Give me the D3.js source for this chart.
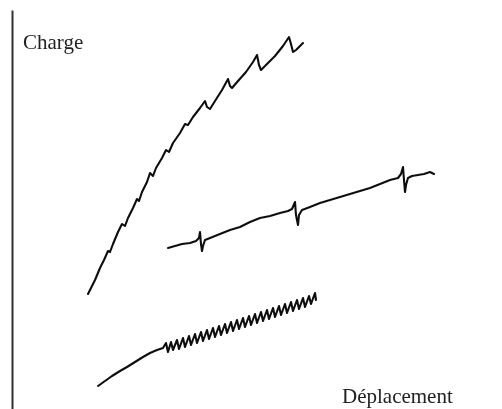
<!DOCTYPE html>
<html>
<head>
<meta charset="utf-8">
<script src="https://cdn.jsdelivr.net/npm/d3@7"></script>
<style>
  html, body { margin: 0; padding: 0; background: #fff; }
  svg { display: block; }
</style>
</head>
<body>
<svg id="chart" width="502" height="409"></svg>
<script>
// Load–displacement traces: [displacement, load] in chart units
const upperTrace = [
  [76,115],[83,129],[88,141],[92,149],[96,158],[98,157],[101,165],[106,177],[110,185],[113,183],
  [116,191],[121,201],[125,210],[127,208],[130,217],[135,227],[138,236],[141,233],[144,241],[150,251],
  [154,259],[157,257],[161,266],[168,276],[173,285],[176,284],[181,292],[188,301],[193,308],[195,302],
  [198,300],[203,308],[210,319],[216,330],[218,323],[220,321],[226,328],[234,337],[241,347],[245,354],
  [247,344],[249,339],[255,345],[263,353],[271,363],[277,372],[279,365],[281,357],[284,359],[288,363],
  [291,366]
];

const middleTrace = [
  [156,161],[163,163],[170,165],[178,166],[184,168],[187,171],[188,177],[189,165],[190,158],[191,163],
  [193,169],[198,171],[208,175],[218,179],[228,182],[238,187],[248,191],[258,193],[268,196],[276,198],
  [280,200],[283,207],[284,194],[286,184],[287,194],[290,199],[298,202],[308,206],[318,209],[328,212],
  [338,215],[348,218],[358,221],[368,225],[378,229],[386,231],[389,235],[391,242],[392,229],[393,217],
  [394,224],[396,231],[400,233],[406,234],[412,235],[418,237],[422,235]
];

const lowerTrace = [
  [86,23],[93,28],[100,33],[108,38],[115,42],[123,47],[131,52],[138,56],[145,59],[151,61],
  [154,66],[156,57],[159,67],[161,59],[165,69],[167,60],[171,71],[173,62],[177,73],[179,64],
  [183,75],[185,66],[189,77],[191,68],[195,79],[197,70],[201,81],[203,72],[207,83],[209,74],
  [213,85],[215,76],[219,87],[221,78],[225,89],[227,80],[231,91],[233,82],[237,93],[239,84],
  [243,95],[245,86],[249,97],[251,88],[255,99],[257,90],[261,101],[263,92],[267,103],[269,94],
  [273,105],[275,96],[279,107],[281,98],[285,109],[287,100],[291,111],[293,102],[297,113],[299,105],
  [303,116],[304,109]
];

const yAxisLabel = "Charge";
const xAxisLabel = "Déplacement";

const svg = d3.select("#chart");
const W = 502, H = 409;

// Soft edges of the printed traces
svg.append("defs").append("filter")
  .attr("id", "soft")
  .attr("x", "-5%").attr("y", "-5%").attr("width", "110%").attr("height", "110%")
  .append("feGaussianBlur")
  .attr("stdDeviation", 0.45);

const root = svg.append("g").attr("filter", "url(#soft)");

const x = d3.scaleLinear().domain([0, 490]).range([12, W]);
const y = d3.scaleLinear().domain([0, 409]).range([H, 0]);

// Vertical load axis
const axisScale = d3.scaleLinear().domain([0, 399]).range([y(0), y(399)]);
root.append("g")
  .attr("transform", `translate(${x(0)},0)`)
  .call(d3.axisLeft(axisScale).ticks(0).tickSizeOuter(0))
  .call(g => g.select(".domain").attr("stroke", "#333").attr("stroke-width", 2));

const line = d3.line()
  .x(d => x(d[0]))
  .y(d => y(d[1]))
  .curve(d3.curveLinear);

const traces = [upperTrace, middleTrace, lowerTrace];
root.append("g")
  .selectAll("path")
  .data(traces)
  .join("path")
  .attr("d", line)
  .attr("fill", "none")
  .attr("stroke", "#111")
  .attr("stroke-width", 2.1)
  .attr("stroke-linejoin", "round")
  .attr("stroke-linecap", "round");

root.append("text")
  .attr("x", 23)
  .attr("y", 49)
  .attr("font-family", "'Liberation Serif', 'Times New Roman', serif")
  .attr("font-size", 21)
  .attr("fill", "#222")
  .text(yAxisLabel);

root.append("text")
  .attr("x", 342)
  .attr("y", 403)
  .attr("font-family", "'Liberation Serif', 'Times New Roman', serif")
  .attr("font-size", 21)
  .attr("fill", "#222")
  .text(xAxisLabel);
</script>
</body>
</html>
